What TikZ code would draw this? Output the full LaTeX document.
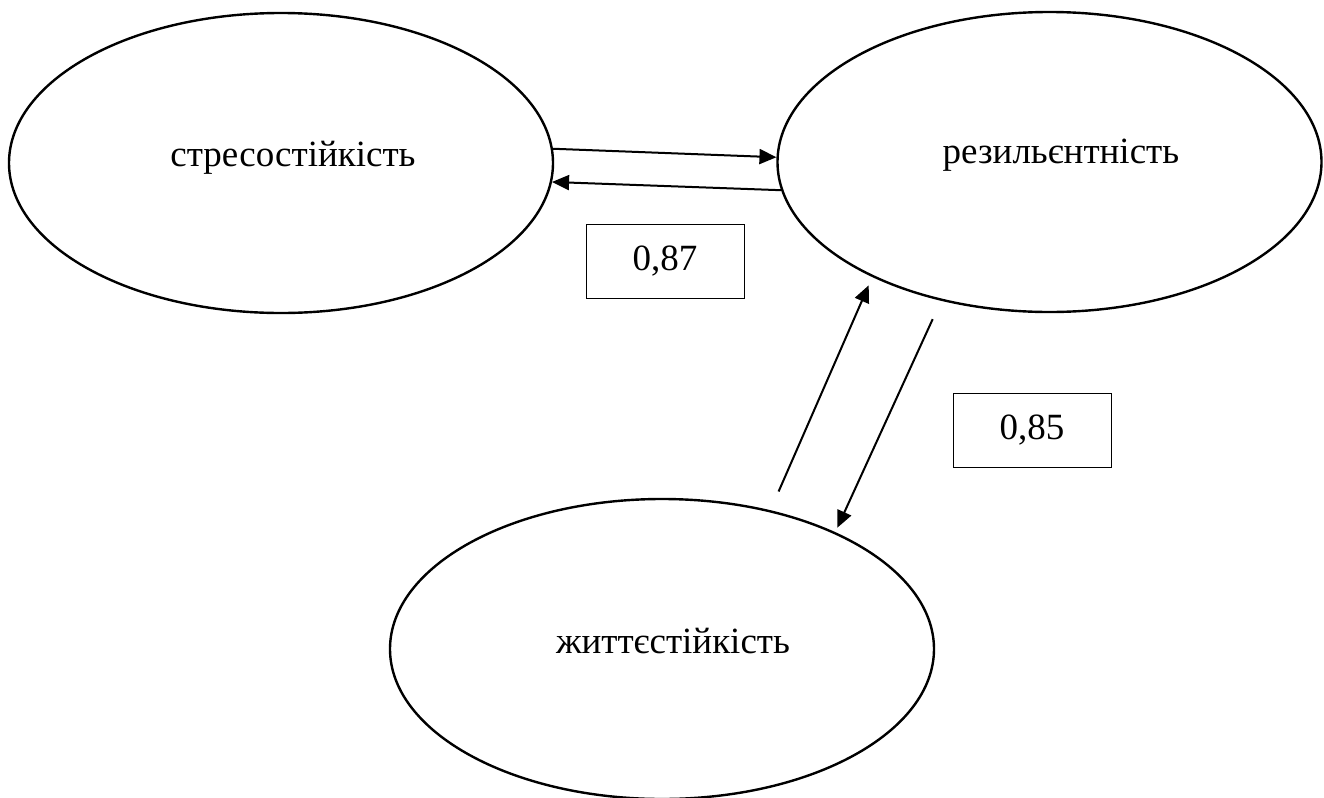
\documentclass[tikz,border=0pt]{standalone}
\usepackage{fontspec}
\setmainfont{Liberation Serif}
\usetikzlibrary{arrows.meta,shapes.geometric}
\begin{document}
\begin{tikzpicture}[x=0.5pt,y=-0.5pt,
  oval/.style={draw,ellipse,line width=1.2pt,minimum width=272pt,minimum height=150pt,inner sep=0pt},
  lbl/.style={font=\fontsize{18.5}{22}\selectfont,anchor=base,inner sep=0pt},
  valbox/.style={draw,line width=0.5pt,minimum width=79pt,minimum height=37pt,inner sep=0pt,font=\fontsize{18.5}{22}\selectfont},
  arr/.style={line width=1pt,-{Triangle[length=8.5pt,width=7.5pt]}}]
\useasboundingbox (0,0) rectangle (1324,798);
\node[oval] (s) at (281,163) {};
\node[oval] (r) at (1049.5,162) {};
\node[oval] (j) at (662,649) {};
\node[lbl] (st) at (293,166) {стресостійкість};
\node[lbl] (rt) at (1061,163) {резильєнтність};
\node[lbl] (jt) at (673,653) {життєстійкість};
\node[valbox] (b1) at (665,261) {0,87};
\node[valbox] (b2) at (1032,430) {0,85};
\draw[arr] (s.3) -- (r.179);
\draw[arr] (r.186) -- (s.-4);
\draw[arr,shorten <=10.2pt,shorten >=4.5pt] (j.52) -- (r.213);
\draw[arr,shorten <=10.1pt,shorten >=2.4pt] (r.232) -- (j.34);
\end{tikzpicture}
\end{document}
